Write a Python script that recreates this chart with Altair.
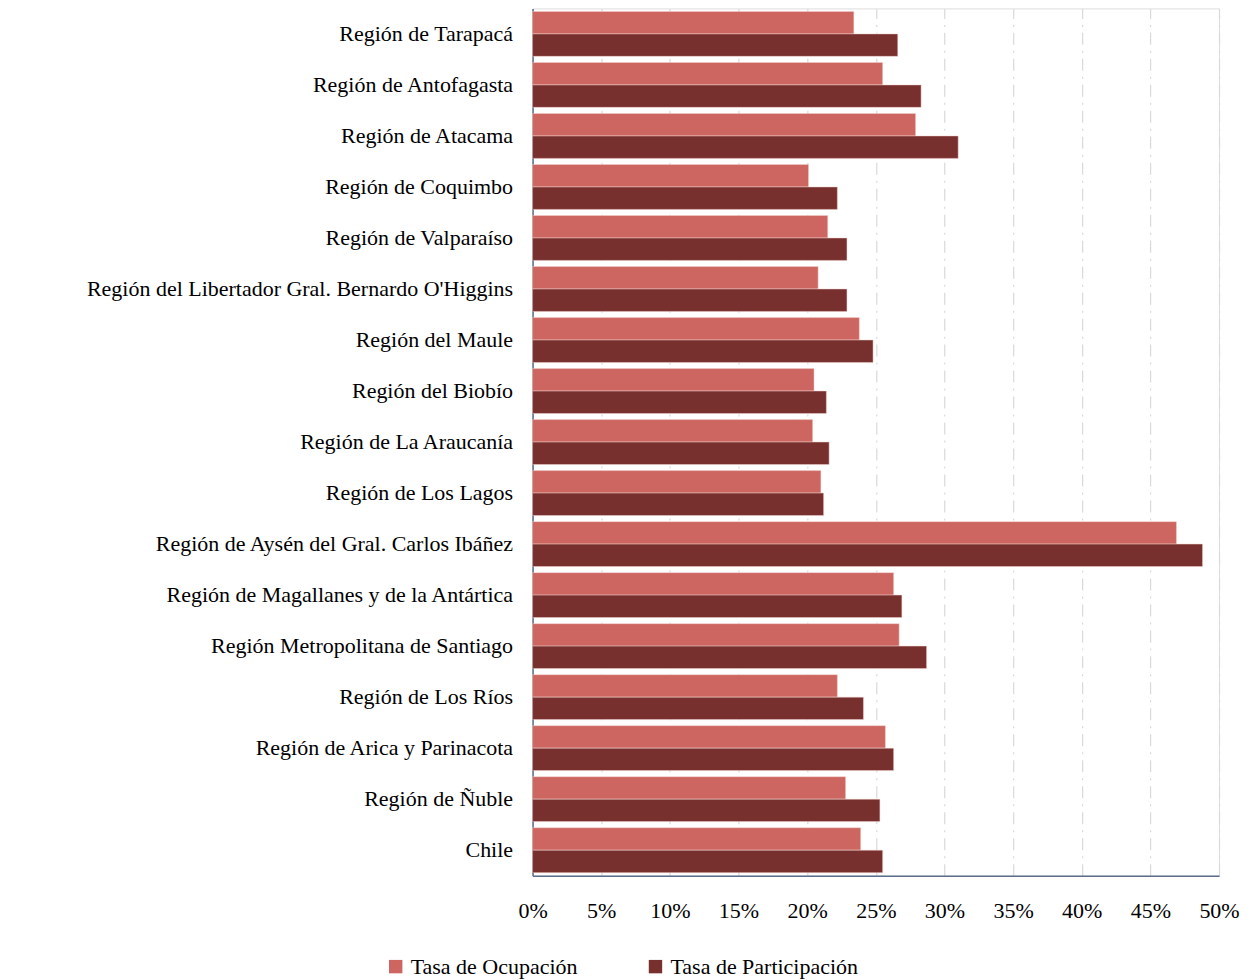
import altair as alt
import pandas as pd

regions = [
    "Región de Tarapacá", "Región de Antofagasta", "Región de Atacama",
    "Región de Coquimbo", "Región de Valparaíso",
    "Región del Libertador Gral. Bernardo O'Higgins", "Región del Maule",
    "Región del Biobío", "Región de La Araucanía", "Región de Los Lagos",
    "Región de Aysén del Gral. Carlos Ibáñez",
    "Región de Magallanes y de la Antártica",
    "Región Metropolitana de Santiago", "Región de Los Ríos",
    "Región de Arica y Parinacota", "Región de Ñuble", "Chile",
]
ocupacion = [23.4, 25.5, 27.9, 20.1, 21.5, 20.8, 23.8, 20.5, 20.4, 21.0,
             46.9, 26.3, 26.7, 22.2, 25.7, 22.8, 23.9]
participacion = [26.6, 28.3, 31.0, 22.2, 22.9, 22.9, 24.8, 21.4, 21.6, 21.2,
                 48.8, 26.9, 28.7, 24.1, 26.3, 25.3, 25.5]
series = ["Tasa de Ocupación", "Tasa de Participación"]
colors = ["#CD6660", "#77302E"]

rows = []
for r, o, p in zip(regions, ocupacion, participacion):
    rows.append({"region": r, "serie": series[0], "valor": o / 100})
    rows.append({"region": r, "serie": series[1], "valor": p / 100})
df = pd.DataFrame(rows)

font = "Liberation Serif"

chart = alt.Chart(df).mark_bar(stroke="#f2d0cc", strokeWidth=0.5).encode(
    y=alt.Y("region:N", sort=regions, title=None,
            scale=alt.Scale(paddingInner=0.12, paddingOuter=0.06),
            axis=alt.Axis(labelFont=font, labelFontSize=22, labelColor="#000000",
                          labelPadding=20, ticks=False, grid=False,
                          domainColor="#5B6D8A", domainWidth=1.5, labelLimit=600)),
    yOffset=alt.YOffset("serie:N", sort=series),
    x=alt.X("valor:Q", title=None,
            scale=alt.Scale(domain=[0, 0.5], nice=False),
            axis=alt.Axis(format=".0%", values=[i * 0.05 for i in range(11)],
                          labelFont=font, labelFontSize=22, labelColor="#000000",
                          labelPadding=25, ticks=False, grid=True,
                          labelFlush=False, labelOverlap=False,
                          gridColor="#d9d9d9", gridDash=[12, 6, 2, 6],
                          gridWidth=1.2, domainColor="#5B6D8A", domainWidth=1.5)),
    color=alt.Color("serie:N", sort=series,
                    scale=alt.Scale(domain=series, range=colors),
                    legend=alt.Legend(orient="none", legendX=-148, legendY=948,
                                      direction="horizontal",
                                      title=None, symbolType="square",
                                      symbolSize=180, symbolStrokeWidth=0,
                                      labelFont=font, labelFontSize=22,
                                      labelColor="#000000", columnPadding=66,
                                      labelLimit=400, labelOffset=4)),
).properties(
    width=687, height=868,
    padding={"left": 78, "top": 0, "right": 5, "bottom": 5},
).configure_view(stroke="transparent", strokeWidth=0).configure(background="white")

chart.save("out.html", embed_options={"renderer": "svg", "actions": False})
